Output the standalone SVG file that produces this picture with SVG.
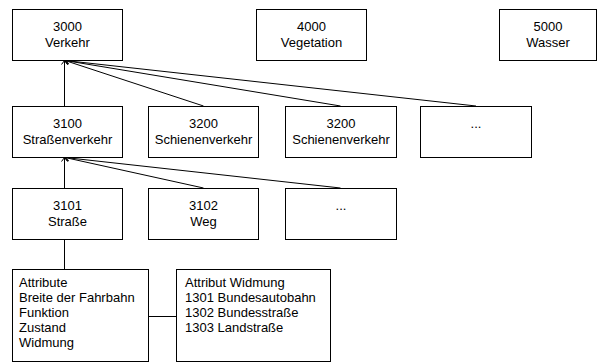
<svg xmlns="http://www.w3.org/2000/svg" width="598" height="363" viewBox="0 0 598 363">
<style>
.box{fill:#fff;stroke:#000;stroke-width:1}
.t{font-family:"Liberation Sans",Arial,sans-serif;font-size:13px;fill:#000}
.c{text-anchor:middle}
.ln{stroke:#000;stroke-width:1;fill:none}
</style>
<defs>
<marker id="open" markerUnits="userSpaceOnUse" markerWidth="10" markerHeight="10" viewBox="-6 -5 8 10" refX="0" refY="0" orient="auto">
<path d="M-4,-3 L0,0 L-4,3" fill="none" stroke="#000" stroke-width="1"/>
</marker>
</defs>
<rect width="598" height="363" fill="#fff"/>
<g id="connectors">
<line class="ln" x1="64.5" y1="106" x2="64.5" y2="60.5" marker-end="url(#open)"/>
<line class="ln" x1="203.5" y1="106" x2="65" y2="60.5" marker-end="url(#open)"/>
<line class="ln" x1="340.5" y1="106" x2="65" y2="60.5" marker-end="url(#open)"/>
<line class="ln" x1="476" y1="106" x2="65" y2="60.5" marker-end="url(#open)"/>
<line class="ln" x1="64.5" y1="188" x2="64.5" y2="157.5" marker-end="url(#open)"/>
<line class="ln" x1="203.5" y1="188" x2="65" y2="157.5" marker-end="url(#open)"/>
<line class="ln" x1="340.5" y1="188" x2="65" y2="157.5" marker-end="url(#open)"/>
<line class="ln" x1="64.5" y1="239.5" x2="64.5" y2="269.5"/>
<line class="ln" x1="148.5" y1="316.5" x2="176.5" y2="316.5"/>
</g>
<g id="n3000"><rect class="box" x="12.5" y="9.5" width="110" height="51"/><text class="t c" x="67.5" y="31">3000</text><text class="t c" x="67.5" y="47">Verkehr</text></g>
<g id="n4000"><rect class="box" x="256.5" y="9.5" width="110" height="51"/><text class="t c" x="311.5" y="31">4000</text><text class="t c" x="311.5" y="47">Vegetation</text></g>
<g id="n5000"><rect class="box" x="499.5" y="9.5" width="97" height="51"/><text class="t c" x="548" y="31">5000</text><text class="t c" x="548" y="47">Wasser</text></g>
<g id="n3100"><rect class="box" x="12.5" y="106.5" width="110" height="51"/><text class="t c" x="67.5" y="128">3100</text><text class="t c" x="67.5" y="144">Straßenverkehr</text></g>
<g id="n3200a"><rect class="box" x="148.5" y="106.5" width="110" height="51"/><text class="t c" x="203.5" y="128">3200</text><text class="t c" x="203.5" y="144">Schienenverkehr</text></g>
<g id="n3200b"><rect class="box" x="285.5" y="106.5" width="111" height="51"/><text class="t c" x="341" y="128">3200</text><text class="t c" x="341" y="144">Schienenverkehr</text></g>
<g id="n3xxx"><rect class="box" x="420.5" y="106.5" width="111" height="51"/><text class="t c" x="476" y="128">...</text></g>
<g id="n3101"><rect class="box" x="12.5" y="188.5" width="110" height="51"/><text class="t c" x="67.5" y="210">3101</text><text class="t c" x="67.5" y="226">Straße</text></g>
<g id="n3102"><rect class="box" x="148.5" y="188.5" width="110" height="51"/><text class="t c" x="203.5" y="210">3102</text><text class="t c" x="203.5" y="226">Weg</text></g>
<g id="n31xx"><rect class="box" x="285.5" y="188.5" width="111" height="51"/><text class="t c" x="341" y="210">...</text></g>
<g id="attribute"><rect class="box" x="12.5" y="269.5" width="136" height="92"/>
<text class="t" x="19" y="287">Attribute</text>
<text class="t" x="19" y="302">Breite der Fahrbahn</text>
<text class="t" x="19" y="317">Funktion</text>
<text class="t" x="19" y="332">Zustand</text>
<text class="t" x="19" y="347">Widmung</text></g>
<g id="widmung"><rect class="box" x="176.5" y="269.5" width="154" height="92"/>
<text class="t" x="185" y="287">Attribut Widmung</text>
<text class="t" x="185" y="302">1301 Bundesautobahn</text>
<text class="t" x="185" y="317">1302 Bundesstraße</text>
<text class="t" x="185" y="332">1303 Landstraße</text></g>
</svg>
